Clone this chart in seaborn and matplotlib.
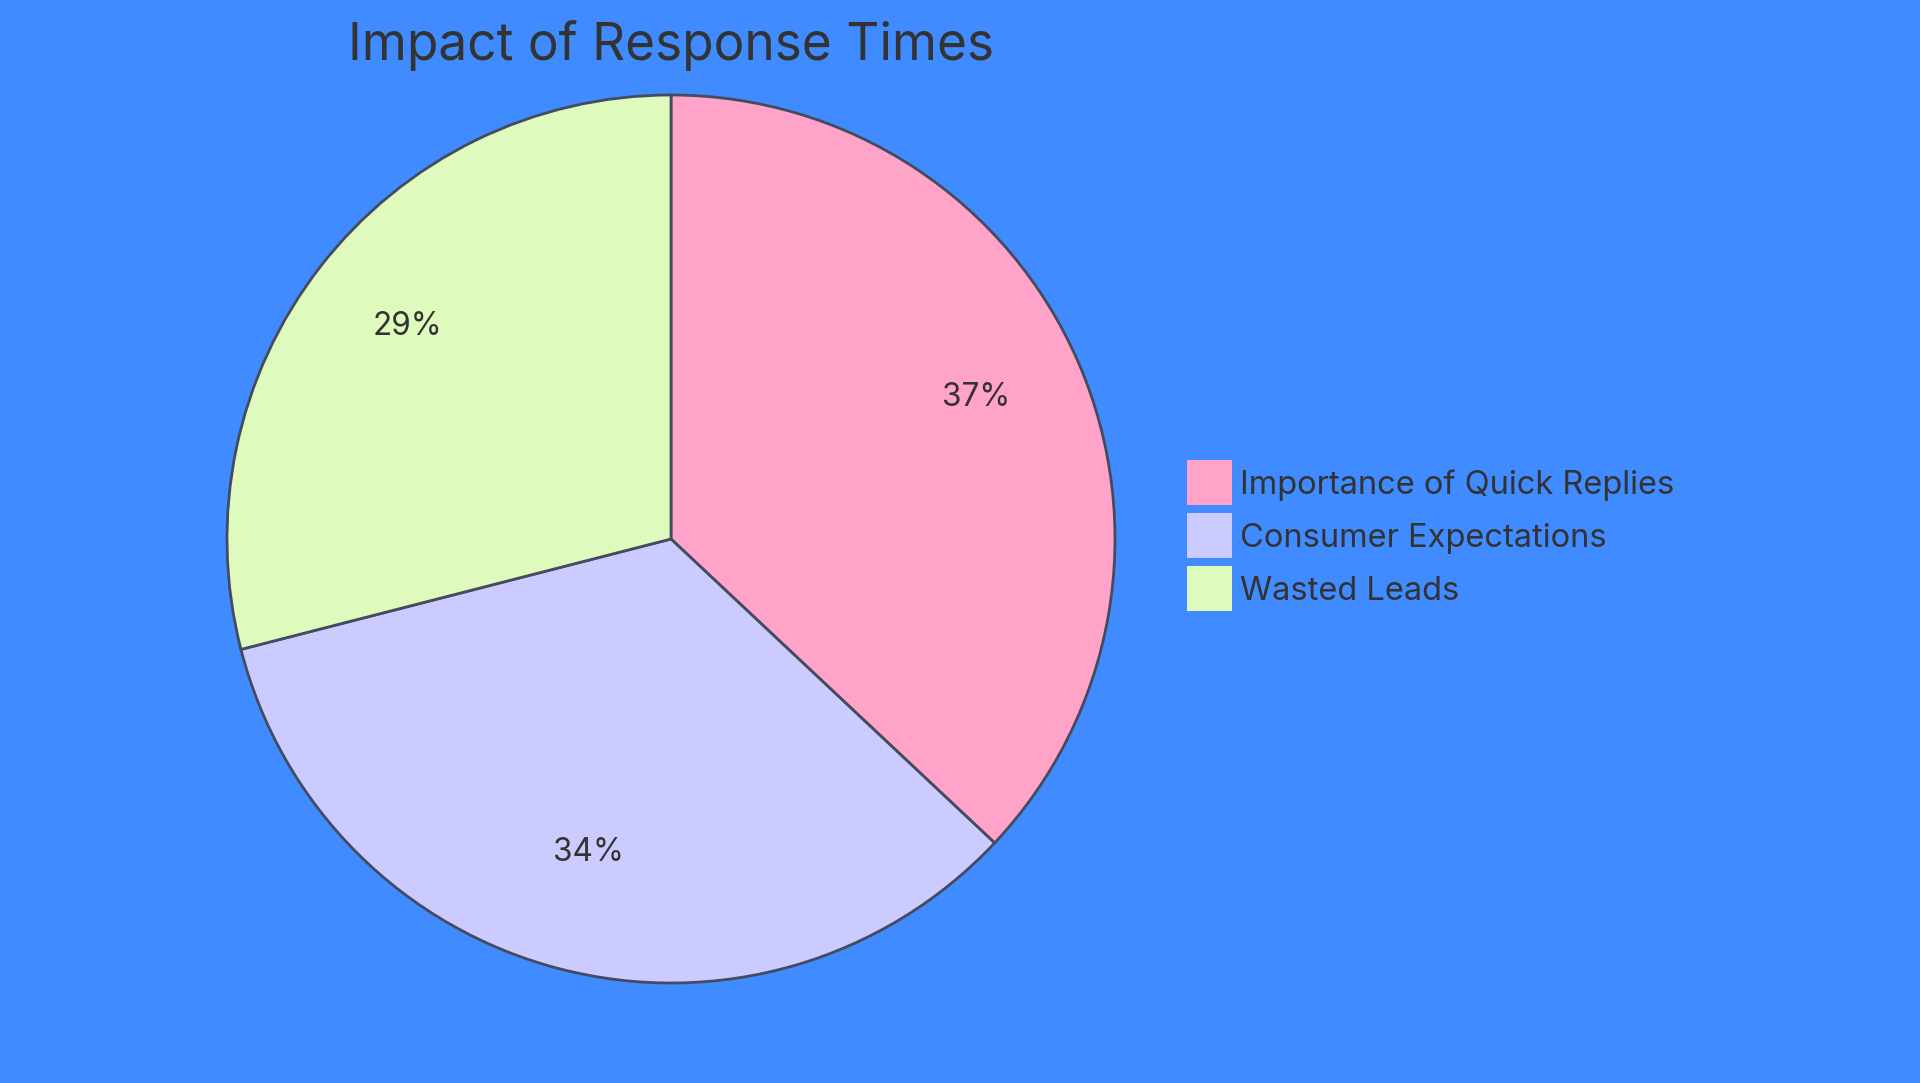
import matplotlib
matplotlib.use("Agg")
import matplotlib.pyplot as plt
import matplotlib.patches as mpatches
from matplotlib.legend_handler import HandlerPatch
import seaborn as sns

categories = ["Importance of Quick Replies", "Consumer Expectations", "Wasted Leads"]
values = [37, 34, 29]
colors = ["#FFA3C9", "#CBCBFF", "#DEFBBD"]
bg = "#408BFF"
edge = "#454B5E"
txt = "#333333"

sns.set_theme(style="white")
plt.rcParams["font.family"] = ["Inter", "DejaVu Sans"]

W, H = 1920, 1083
fig = plt.figure(figsize=(W / 100, H / 100), dpi=100)
fig.patch.set_facecolor(bg)

# pie axes placed by pixel centre / radius
cx, cy, r = 671, 539, 444
pad = 1.02
ax = fig.add_axes([(cx - r * pad) / W, (H - cy - r * pad) / H, 2 * r * pad / W, 2 * r * pad / H])
ax.set_facecolor(bg)
wedges, texts, autotexts = ax.pie(
    values, colors=colors, startangle=90, counterclock=False,
    autopct="%1.0f%%", pctdistance=0.75,
    wedgeprops=dict(edgecolor=edge, linewidth=2),
    textprops=dict(color=txt, fontsize=22.7),
)
# labels sit a little above their anchor in the reference
for t in autotexts:
    x, y = t.get_position()
    t.set_position((x, y + 0.02))
ax.set_xlim(-pad, pad)
ax.set_ylim(-pad, pad)
ax.set_aspect("equal")
ax.axis("off")

fig.text(cx / W, (H - 60) / H, "Impact of Response Times", ha="center", va="baseline",
         fontsize=37, color=txt)

# square legend swatches, 45 px wide
sq = 45 * 72 / 100
def square(legend, orig_handle, xdescent, ydescent, width, height, fontsize):
    return mpatches.Rectangle((-xdescent, -ydescent + height / 2 - sq / 2), sq, sq)

fs = 23.5
handles = [mpatches.Patch(facecolor=c, edgecolor="none", label=l) for c, l in zip(colors, categories)]
fig.legend(handles=handles, loc="upper left", bbox_to_anchor=(1187 / W, (H - 465) / H),
           frameon=False, fontsize=fs, handlelength=sq / fs, handleheight=1.3,
           handletextpad=0.26, labelspacing=0.53, borderpad=0, borderaxespad=0,
           labelcolor=txt, handler_map={mpatches.Patch: HandlerPatch(patch_func=square)})

fig.savefig("out.png", dpi=100, facecolor=bg)
